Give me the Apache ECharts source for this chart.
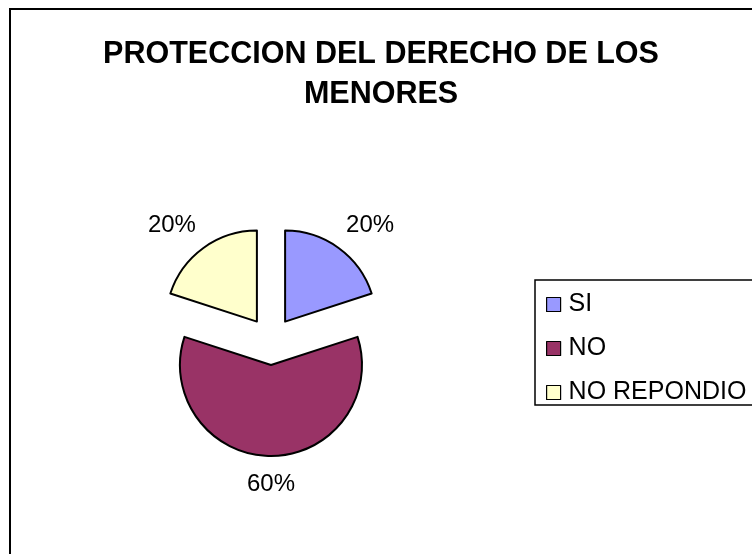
<!DOCTYPE html>
<html>
<head>
<meta charset="utf-8">
<script src="https://cdn.jsdelivr.net/npm/echarts@6/dist/echarts.min.js"></script>
<style>
html,body{margin:0;padding:0;background:#fff;}
#chart{width:752px;height:554px;}
</style>
</head>
<body>
<div id="chart"></div>
<script>
var titleText = 'PROTECCION DEL DERECHO DE LOS\nMENORES';
var categories = ['SI', 'NO', 'NO REPONDIO'];
var values = [20, 60, 20];
var colors = ['#9999FF', '#993366', '#FFFFCC'];

var chart = echarts.init(document.getElementById('chart'), null, {renderer: 'canvas'});
var data = categories.map(function (c, i) {
  var item = {name: c, value: values[i], selected: true, itemStyle: {color: colors[i]}};
  if (i === 1) {
    item.labelLine = {length: 28, length2: 0};
    item.label = {distanceToLabelLine: 0};
  }
  return item;
});
chart.setOption({
  backgroundColor: '#ffffff',
  animation: false,
  graphic: [{
    type: 'rect',
    shape: {x: 10, y: 9, width: 800, height: 600},
    style: {fill: 'none', stroke: '#000', lineWidth: 2},
    silent: true
  }],
  title: {
    text: titleText,
    left: 376,
    textAlign: 'center',
    top: 30,
    textStyle: {fontFamily: 'Liberation Sans', fontWeight: 'bold', fontSize: 30.5, lineHeight: 40, color: '#000'}
  },
  legend: {
    orient: 'vertical',
    left: 535,
    top: 280,
    padding: [12, 30, 0, 11],
    itemGap: 19,
    itemWidth: 14,
    itemHeight: 14,
    icon: 'rect',
    borderColor: '#000',
    borderWidth: 1.5,
    itemStyle: {borderColor: '#000', borderWidth: 1.2},
    textStyle: {fontFamily: 'Liberation Sans', fontSize: 25, lineHeight: 24, color: '#000', padding: [0, 0, 0, 3]},
    data: categories
  },
  series: [{
    type: 'pie',
    center: [271, 341],
    radius: 91,
    startAngle: 90,
    clockwise: true,
    selectedMode: 'multiple',
    selectedOffset: 24,
    avoidLabelOverlap: false,
    emphasis: {disabled: true},
    itemStyle: {borderColor: '#000', borderWidth: 2},
    label: {
      show: true,
      position: 'outside',
      fontFamily: 'Liberation Sans',
      fontSize: 24,
      color: '#000',
      formatter: function (p) { return Math.round(p.percent) + '%'; }
    },
    labelLine: {show: false, length: 28, length2: 10},
    labelLayout: function () { return {align: 'center'}; },
    data: data
  }]
});
</script>
</body>
</html>
